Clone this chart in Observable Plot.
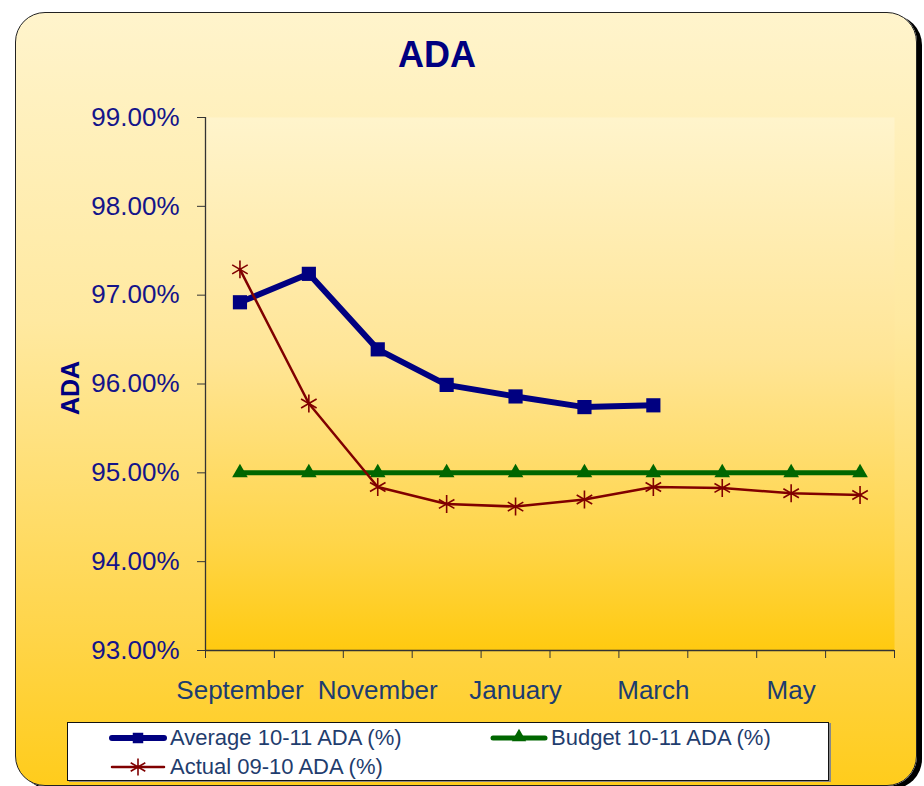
<!DOCTYPE html>
<html>
<head>
<meta charset="utf-8">
<script src="https://cdn.jsdelivr.net/npm/d3@7"></script>
<script src="https://cdn.jsdelivr.net/npm/@observablehq/plot@0.6"></script>
<style>
  html, body { margin: 0; padding: 0; background: #ffffff; }
  #wrap { position: relative; width: 924px; height: 786px; overflow: hidden; font-family: "Liberation Sans", Arial, sans-serif; }
  #box { position: absolute; left: 15px; top: 12px; width: 900px; height: 772px; border: 1px solid #222;
         border-radius: 30px; box-shadow: 5px 3px 0 #000;
         background: linear-gradient(to bottom, #fff4cc 0%, #ffe9a0 40%, #ffd54a 80%, #ffcc1c 100%); }
  #chart { position: absolute; left: 0; top: 0; }
  #title { position: absolute; left: 0; width: 874px; top: 34px; text-align: center; font-weight: bold; font-size: 36px; color: #000080; }
  #ytitle { position: absolute; left: 70px; top: 388px; transform: translate(-50%, -50%) rotate(-90deg); font-weight: bold; font-size: 25px; color: #000080; white-space: nowrap; }
  #legend { position: absolute; left: 67px; top: 722px; width: 760px; height: 57px; background: #fff; border: 1px solid #111; box-shadow: 2px 1px 0 #888; }
  .item { position: absolute; display: flex; align-items: center; height: 28px; font-size: 22px; color: #1f3d6e; white-space: nowrap; }
  .item svg { margin-right: 3px; }
</style>
</head>
<body>
<div id="wrap">
  <div id="box"></div>
  <div id="chart"></div>
  <div id="title">ADA</div>
  <div id="ytitle">ADA</div>
  <div id="legend"></div>
</div>
<script>
// ---- data ----
const months = ["September", "October", "November", "December", "January", "February", "March", "April", "May", "June"];
const labelMonths = ["September", "November", "January", "March", "May"];
const yTicks = [93, 94, 95, 96, 97, 98, 99];
const average1011 = [96.92, 97.24, 96.39, 95.99, 95.86, 95.74, 95.76];
const budget1011 = [95.00, 95.00, 95.00, 95.00, 95.00, 95.00, 95.00, 95.00, 95.00, 95.00];
const actual0910 = [97.29, 95.78, 94.84, 94.65, 94.62, 94.70, 94.84, 94.83, 94.77, 94.75];
const seriesNames = ["Average 10-11 ADA (%)", "Budget 10-11 ADA (%)", "Actual 09-10 ADA (%)"];

const toRows = (vals) => vals.map((v, i) => ({month: months[i], idx: i + 0.5, value: v}));
const avgRows = toRows(average1011);
const budRows = toRows(budget1011);
const actRows = toRows(actual0910);
const labelPos = labelMonths.map(m => months.indexOf(m) + 0.5);
const bounds = d3.range(0, months.length + 1);

const NAVY = "#000080", GREEN = "#006600", MAROON = "#800000", AXIS = "#333333";

const plot = Plot.plot({
  width: 924,
  height: 720,
  marginLeft: 205,
  marginRight: 30,
  marginTop: 117,
  marginBottom: 70,
  style: {background: "transparent", fontFamily: "'Liberation Sans', Arial, sans-serif", overflow: "visible"},
  x: {type: "linear", domain: [0, months.length]},
  y: {domain: [93, 99]},
  marks: [
    Plot.frame({fill: "url(#plotGrad)", stroke: "none"}),
    Plot.axisY({ticks: yTicks, tickFormat: d => d.toFixed(2) + "%", tickSize: 8, tickPadding: 18,
                fontSize: 26, fill: "#14148a", stroke: AXIS, label: null}),
    Plot.axisX({ticks: bounds, tickFormat: () => "", tickSize: 8, stroke: AXIS, label: null}),
    Plot.axisX({ticks: labelPos, tickFormat: d => months[Math.round(d - 0.5)], tickSize: 0, tickPadding: 30,
                fontSize: 26, fill: "#1c3c70", label: null}),
    Plot.ruleX([0], {y1: 93, y2: 99, stroke: AXIS, strokeWidth: 1.3}),
    Plot.ruleY([93], {x1: 0, x2: months.length, stroke: AXIS, strokeWidth: 1.3}),
    Plot.line(avgRows, {x: "idx", y: "value", stroke: NAVY, strokeWidth: 6}),
    Plot.dot(avgRows, {x: "idx", y: "value", symbol: "square", r: 8, fill: NAVY, stroke: "none"}),
    Plot.line(budRows, {x: "idx", y: "value", stroke: GREEN, strokeWidth: 5}),
    Plot.dot(budRows, {x: "idx", y: "value", symbol: "triangle", r: 5.8, fill: GREEN, stroke: "none"}),
    Plot.line(actRows, {x: "idx", y: "value", stroke: MAROON, strokeWidth: 2.5}),
    Plot.dot(actRows, {x: "idx", y: "value", symbol: "asterisk", r: 8.5, stroke: MAROON, strokeWidth: 1.6, fill: "none"})
  ]
});

const svg = d3.select(plot);
const defs = svg.insert("defs", ":first-child");
const g = defs.append("linearGradient").attr("id", "plotGrad").attr("x1", 0).attr("y1", 0).attr("x2", 0).attr("y2", 1);
g.append("stop").attr("offset", "0%").attr("stop-color", "#fff4cc");
g.append("stop").attr("offset", "45%").attr("stop-color", "#ffe596");
g.append("stop").attr("offset", "80%").attr("stop-color", "#ffd548");
g.append("stop").attr("offset", "100%").attr("stop-color", "#ffca10");
document.getElementById("chart").appendChild(plot);

// ---- legend ----
const legend = document.getElementById("legend");
const items = [
  {name: seriesNames[0], color: NAVY, width: 6, sym: "square", left: 41, top: 1},
  {name: seriesNames[1], color: GREEN, width: 5, sym: "triangle", left: 422, top: 1},
  {name: seriesNames[2], color: MAROON, width: 2.5, sym: "asterisk", left: 41, top: 30}
];
items.forEach(it => {
  const div = document.createElement("div");
  div.className = "item";
  div.style.left = it.left + "px";
  div.style.top = it.top + "px";
  const s = d3.create("svg").attr("width", 58).attr("height", 20);
  s.append("line").attr("x1", 3).attr("x2", 55).attr("y1", 10).attr("y2", 10)
    .attr("stroke", it.color).attr("stroke-width", it.width).attr("stroke-linecap", "round");
  if (it.sym === "square") {
    s.append("path").attr("d", d3.symbol(d3.symbolSquare, 110)()).attr("transform", "translate(29,10)").attr("fill", it.color);
  } else if (it.sym === "triangle") {
    s.append("path").attr("d", d3.symbol(d3.symbolTriangle, 90)()).attr("transform", "translate(29,9)").attr("fill", it.color);
  } else {
    s.append("path").attr("d", d3.symbol(d3.symbolAsterisk, 200)()).attr("transform", "translate(29,10)")
      .attr("fill", "none").attr("stroke", it.color).attr("stroke-width", 1.6);
  }
  div.appendChild(s.node());
  const t = document.createElement("span");
  t.textContent = it.name;
  div.appendChild(t);
  legend.appendChild(div);
});
</script>
</body>
</html>
